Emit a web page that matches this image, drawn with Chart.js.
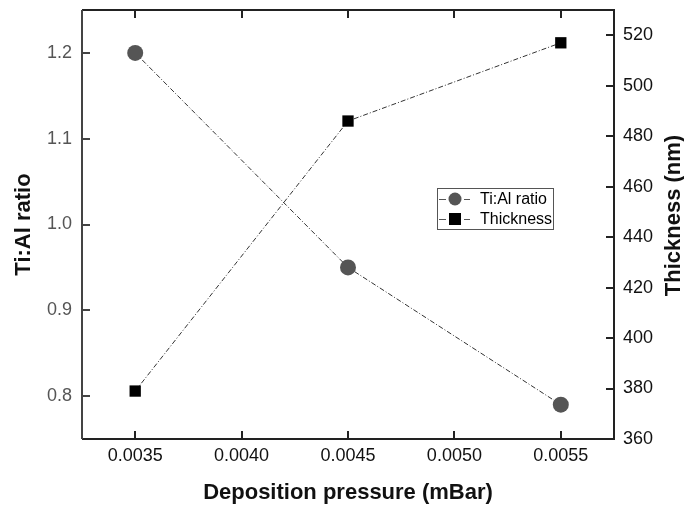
<!DOCTYPE html>
<html>
<head>
<meta charset="utf-8">
<script src="https://cdn.jsdelivr.net/npm/chart.js@4/dist/chart.umd.min.js"></script>
<style>
  html, body { margin: 0; padding: 0; background: #fff; }
  #wrap { width: 684px; height: 506px; }
</style>
</head>
<body>
<div id="wrap"><canvas id="chart" width="684" height="506"></canvas></div>
<script>
// values
const pressure = [0.0035, 0.0045, 0.0055];
const tiAlRatio = [1.2, 0.95, 0.79];
const thickness = [379, 486, 517];

const xTicks = [0.0035, 0.004, 0.0045, 0.005, 0.0055];
const ratioTicks = [0.8, 0.9, 1.0, 1.1, 1.2];
const thickTicks = [360, 380, 400, 420, 440, 460, 480, 500, 520];

const FONT = "'Liberation Sans', Arial, sans-serif";

// ticks drawn pointing into the plot, the full frame and the axis titles
const frameTicks = {
  id: 'frameTicks',
  afterDatasetsDraw(chart) {
    const { ctx, chartArea: a, scales } = chart;
    ctx.save();
    ctx.lineWidth = 2;
    ctx.strokeStyle = '#222';
    ctx.beginPath();
    scales.x.ticks.forEach(t => {
      const px = Math.round(scales.x.getPixelForValue(t.value));
      ctx.moveTo(px, a.bottom); ctx.lineTo(px, a.bottom - 8);
      ctx.moveTo(px, a.top); ctx.lineTo(px, a.top + 8);
    });
    scales.y2.ticks.forEach(t => {
      const py = Math.round(scales.y2.getPixelForValue(t.value));
      ctx.moveTo(a.right, py); ctx.lineTo(a.right - 8, py);
    });
    ctx.stroke();
    ctx.strokeStyle = '#444';
    ctx.beginPath();
    scales.y.ticks.forEach(t => {
      const py = Math.round(scales.y.getPixelForValue(t.value));
      ctx.moveTo(a.left, py); ctx.lineTo(a.left + 8, py);
    });
    ctx.stroke();
    // frame
    ctx.strokeStyle = '#222';
    ctx.beginPath();
    ctx.moveTo(a.left, a.bottom); ctx.lineTo(a.right, a.bottom); ctx.lineTo(a.right, a.top); ctx.lineTo(a.left, a.top);
    ctx.stroke();
    ctx.strokeStyle = '#444';
    ctx.beginPath();
    ctx.moveTo(a.left, a.top); ctx.lineTo(a.left, a.bottom);
    ctx.stroke();

    // axis titles
    ctx.fillStyle = '#111';
    ctx.font = 'bold 22px ' + FONT;
    ctx.textAlign = 'center';
    ctx.textBaseline = 'middle';
    const midY = (a.top + a.bottom) / 2;
    ctx.fillText('Deposition pressure (mBar)', (a.left + a.right) / 2, 493);
    ctx.save();
    ctx.translate(24, midY);
    ctx.rotate(-Math.PI / 2);
    ctx.fillText('Ti:Al ratio', 0, 0);
    ctx.restore();
    ctx.save();
    ctx.translate(674, midY - 9);
    ctx.rotate(-Math.PI / 2);
    ctx.fillText('Thickness (nm)', 0, 0);
    ctx.restore();
    ctx.restore();
  }
};

// boxed legend inside the plot
const boxLegend = {
  id: 'boxLegend',
  afterDraw(chart) {
    const { ctx } = chart;
    const x0 = 437, y0 = 188, w = 116, h = 41;
    ctx.save();
    ctx.lineWidth = 1;
    ctx.strokeStyle = '#555';
    ctx.strokeRect(x0 + 0.5, y0 + 0.5, w, h);
    ctx.font = '16px ' + FONT;
    ctx.textBaseline = 'middle';
    chart.data.datasets.forEach((ds, i) => {
      const cy = y0 + 11 + i * 20;
      ctx.strokeStyle = '#555';
      ctx.lineWidth = 1;
      ctx.beginPath();
      ctx.moveTo(x0 + 2, cy + 0.5); ctx.lineTo(x0 + 9, cy + 0.5);
      ctx.moveTo(x0 + 27, cy + 0.5); ctx.lineTo(x0 + 33, cy + 0.5);
      ctx.stroke();
      ctx.fillStyle = ds.pointBackgroundColor;
      if (ds.pointStyle === 'circle') {
        ctx.beginPath(); ctx.arc(x0 + 18, cy, 6.5, 0, Math.PI * 2); ctx.fill();
      } else {
        ctx.fillRect(x0 + 12, cy - 6, 12, 12);
      }
      ctx.fillStyle = '#000';
      ctx.fillText(ds.label, x0 + 43, cy + 1);
    });
    ctx.restore();
  }
};

// pin the plot area: no extra edge padding from the tick labels
const noEdgePad = s => {
  s.paddingTop = 0; s.paddingBottom = 0; s.paddingLeft = 0; s.paddingRight = 0;
};

new Chart(document.getElementById('chart'), {
  type: 'line',
  data: {
    datasets: [
      {
        label: 'Ti:Al ratio',
        data: pressure.map((p, i) => ({ x: p, y: tiAlRatio[i] })),
        yAxisID: 'y',
        borderColor: '#333',
        borderWidth: 1,
        borderDash: [5, 2, 1, 2],
        pointStyle: 'circle',
        pointRadius: 8,
        pointBackgroundColor: '#555',
        pointBorderWidth: 0
      },
      {
        label: 'Thickness',
        data: pressure.map((p, i) => ({ x: p, y: thickness[i] })),
        yAxisID: 'y2',
        borderColor: '#333',
        borderWidth: 1,
        borderDash: [5, 2, 1, 2],
        pointStyle: 'rect',
        pointRadius: 8,
        pointBackgroundColor: '#000',
        pointBorderWidth: 0
      }
    ]
  },
  options: {
    responsive: false,
    animation: false,
    layout: { padding: { top: 10, left: 0, right: 0, bottom: 0 } },
    plugins: { legend: { display: false }, tooltip: { enabled: false } },
    scales: {
      x: {
        type: 'linear',
        min: 0.00325, max: 0.00575,
        grid: { display: false, drawTicks: false },
        border: { display: false },
        afterBuildTicks: s => { s.ticks = xTicks.map(v => ({ value: v })); },
        ticks: { color: '#111', font: { family: FONT, size: 18 }, padding: 6, maxRotation: 0,
          callback: v => v.toFixed(4) },
        afterFit: s => { s.height = 67; noEdgePad(s); }
      },
      y: {
        position: 'left',
        min: 0.75, max: 1.25,
        grid: { display: false, drawTicks: false },
        border: { display: false },
        afterBuildTicks: s => { s.ticks = ratioTicks.map(v => ({ value: v })); },
        ticks: { color: '#555', font: { family: FONT, size: 18 }, padding: 10,
          callback: v => v.toFixed(1) },
        afterFit: s => { s.width = 82; noEdgePad(s); }
      },
      y2: {
        position: 'right',
        min: 360, max: 530,
        grid: { display: false, drawTicks: false },
        border: { display: false },
        afterBuildTicks: s => { s.ticks = thickTicks.map(v => ({ value: v })); },
        ticks: { color: '#111', font: { family: FONT, size: 18 }, padding: 9 },
        afterFit: s => { s.width = 70; noEdgePad(s); }
      }
    }
  },
  plugins: [frameTicks, boxLegend]
});
</script>
</body>
</html>
